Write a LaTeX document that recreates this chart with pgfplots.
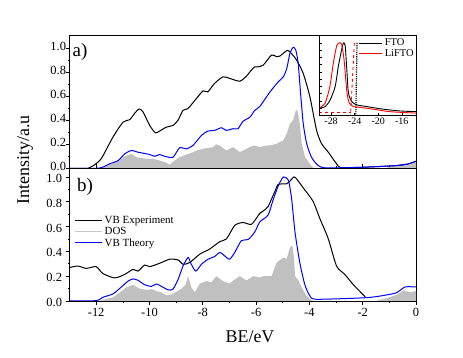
\documentclass[border=0pt]{standalone}
\usepackage{pgfplots}
\pgfplotsset{compat=1.18}
\usepackage{fontspec}
\setmainfont{Liberation Serif}
\definecolor{dosgray}{RGB}{192,192,192}
\definecolor{dosleg}{RGB}{200,200,200}
\begin{document}
\begin{tikzpicture}
\useasboundingbox (0,0) rectangle (463bp,358bp);
\pgfplotsset{
  mainax/.style={
    scale only axis, width=346.5bp, height=132.6bp,
    xmin=-13, xmax=0,
    xtick={-12,-10,...,0}, minor x tick num=1,
    ytick={0,0.2,...,1.0}, minor y tick num=1,
    xtick pos=left, ytick pos=left,
    /pgf/number format/assume math mode=true,
    yticklabel style={/pgf/number format/fixed,/pgf/number format/precision=1,/pgf/number format/fixed zerofill},
    ticklabel style={font=\fontsize{12.5}{14}\selectfont},
    major tick length=4bp, minor tick length=2bp,
    axis line style={line width=0.6bp}, every tick/.style={black, line width=0.6bp},
    clip=true,
  },
}
% ---------- panel a ----------
\begin{axis}[mainax, at={(69.5bp,189.7bp)}, anchor=south west,
  ymin=0, ymax=1.105, xticklabels={}, x tick style={/pgfplots/tick align=inside},
  y tick style={/pgfplots/tick align=outside},
  yticklabel style={yshift=1.8bp}]
\addplot[fill=dosgray, draw=none] coordinates {
(-13,0) (-11.8,0) (-11.5,0.03) (-11.2,0.06) (-10.93,0.10) (-10.68,0.12) (-10.49,0.092) (-10.3,0.085) (-10.11,0.08)
(-9.8,0.075) (-9.62,0.065) (-9.4,0.05) (-9.25,0.03) (-9.06,0.064) (-8.87,0.092) (-8.61,0.115) (-8.37,0.134)
(-8.2,0.15) (-7.99,0.162) (-7.8,0.17) (-7.62,0.176) (-7.5,0.2) (-7.37,0.19) (-7.12,0.148) (-6.86,0.176)
(-6.61,0.134) (-6.36,0.162) (-6.2,0.18) (-6.05,0.19) (-5.86,0.176) (-5.6,0.19) (-5.48,0.19) (-5.23,0.204)
(-4.98,0.232) (-4.85,0.288) (-4.73,0.372) (-4.61,0.40) (-4.51,0.483) (-4.45,0.483) (-4.36,0.372) (-4.29,0.204)
(-4.16,0.092) (-3.98,0.037) (-3.85,0.0) (-1.2,0) (-0.8,0.02) (-0.5,0.04) (-0.2,0.03) (0,0.05)
} \closedcycle;
\addplot[black, line width=1bp, smooth, tension=0.4] coordinates {
(-13,0) (-12.3,0) (-12.12,0.02) (-11.81,0.08) (-11.37,0.26) (-10.99,0.385) (-10.74,0.405) (-10.55,0.46)
(-10.39,0.494) (-10.24,0.47) (-9.99,0.357) (-9.78,0.296) (-9.62,0.31) (-9.37,0.343) (-9.12,0.357) (-8.93,0.40)
(-8.74,0.483) (-8.56,0.497) (-8.24,0.581) (-7.99,0.645) (-7.81,0.637) (-7.56,0.707) (-7.24,0.762) (-6.99,0.749)
(-6.61,0.726) (-6.36,0.768) (-6.23,0.804) (-6.05,0.846) (-5.92,0.846) (-5.73,0.86) (-5.42,0.944) (-5.23,0.93)
(-5.11,0.935) (-4.85,0.98) (-4.73,0.97) (-4.48,0.902) (-4.23,0.79) (-3.98,0.595) (-3.73,0.316) (-3.54,0.204)
(-3.29,0.134) (-2.98,0.037) (-2.85,0.008) (-2.5,0.006) (-1.85,0.01) (-0.72,0.023) (-0.28,0.037) (0,0.059)
};
\addplot[blue, line width=1bp, smooth, tension=0.4] coordinates {
(-13,0) (-12.0,0) (-11.75,0.01) (-11.5,0.037) (-11.18,0.064) (-10.93,0.12) (-10.68,0.148) (-10.43,0.134)
(-10.24,0.126) (-9.99,0.115) (-9.80,0.10) (-9.62,0.115) (-9.43,0.10) (-9.12,0.092) (-8.87,0.171) (-8.61,0.162)
(-8.37,0.19) (-8.05,0.274) (-7.81,0.31) (-7.56,0.316) (-7.30,0.338) (-7.12,0.316) (-6.86,0.33) (-6.68,0.33)
(-6.49,0.391) (-6.23,0.427) (-6.05,0.483) (-5.86,0.515) (-5.48,0.636) (-5.17,0.72) (-4.98,0.762) (-4.85,0.83)
(-4.73,0.958) (-4.61,1.008) (-4.51,0.985) (-4.42,0.874) (-4.33,0.623) (-4.23,0.372) (-4.10,0.204) (-3.92,0.092)
(-3.67,0.023) (-3.35,0.003) (-1.85,0.01) (-0.72,0.023) (-0.28,0.037) (0,0.059)
};
\end{axis}
% ---------- panel b ----------
\begin{axis}[mainax, at={(69.5bp,57bp)}, anchor=south west, height=132.7bp,
  ymin=0, ymax=1.07, tick align=outside,
  yticklabel style={yshift=-1.5bp},
  legend style={at={(0.01,0.665)}, anchor=north west, draw=none, fill=none,
    font=\fontsize{11}{13}\selectfont, row sep=-1.5bp, inner sep=1bp},
  legend cell align=left,
  legend image code/.code={\draw[#1] (0bp,0bp) -- (27bp,0bp);}]
\addplot[fill=dosgray, draw=none, forget plot] coordinates {
(-13,0) (-11.9,0) (-11.75,0.01) (-11.37,0.03) (-11.1,0.07) (-10.87,0.11) (-10.62,0.13) (-10.37,0.1) (-10.11,0.09)
(-9.9,0.095) (-9.74,0.08) (-9.55,0.07) (-9.37,0.045) (-9.2,0.05) (-9.06,0.065) (-8.80,0.1) (-8.65,0.13) (-8.55,0.2)
(-8.43,0.11) (-8.30,0.07) (-8.11,0.14) (-7.86,0.16) (-7.68,0.15) (-7.49,0.2) (-7.24,0.16) (-6.99,0.14) (-6.86,0.165)
(-6.61,0.2) (-6.36,0.165) (-6.11,0.2) (-5.86,0.19) (-5.73,0.2) (-5.42,0.2) (-5.23,0.31) (-4.98,0.35) (-4.85,0.34)
(-4.73,0.433) (-4.64,0.446) (-4.58,0.36) (-4.54,0.2) (-4.42,0.17) (-4.29,0.11) (-4.10,0.04) (-3.92,0.005) (-3.8,0)
(-1.5,0) (-1.0,0.03) (-0.72,0.05) (-0.47,0.085) (-0.22,0.07) (0,0.08)
} \closedcycle;
\addplot[black, line width=1bp, smooth, tension=0.4, forget plot] coordinates {
(-13,0.269) (-12.69,0.282) (-12.37,0.263) (-12.0,0.277) (-11.75,0.222) (-11.31,0.186) (-10.93,0.214) (-10.62,0.255)
(-10.43,0.241) (-10.18,0.29) (-9.99,0.277) (-9.62,0.304) (-9.24,0.337) (-8.93,0.331) (-8.74,0.296) (-8.49,0.31)
(-8.11,0.378) (-7.74,0.419) (-7.36,0.479) (-7.11,0.501) (-6.80,0.61) (-6.49,0.633) (-6.17,0.619) (-5.86,0.707)
(-5.73,0.726) (-5.55,0.762) (-5.29,0.885) (-5.17,0.94) (-4.86,0.945) (-4.73,0.967) (-4.58,1.0) (-4.48,0.985)
(-4.23,0.912) (-3.86,0.803) (-3.61,0.666) (-3.29,0.501) (-2.98,0.282) (-2.67,0.214) (-2.35,0.131) (-2.10,0.076)
(-1.88,0.027)
};
\addplot[blue, line width=1bp, smooth, tension=0.4, forget plot] coordinates {
(-13,0) (-12.0,0.003) (-11.75,0.03) (-11.37,0.057) (-11.06,0.112) (-10.81,0.159) (-10.62,0.178) (-10.43,0.167)
(-10.18,0.131) (-9.93,0.118) (-9.74,0.137) (-9.55,0.118) (-9.30,0.09) (-9.12,0.095) (-8.93,0.172) (-8.74,0.282)
(-8.55,0.351) (-8.43,0.296) (-8.26,0.241) (-8.05,0.296) (-7.80,0.337) (-7.55,0.359) (-7.36,0.392) (-7.18,0.364)
(-6.99,0.337) (-6.80,0.392) (-6.55,0.487) (-6.30,0.495) (-6.05,0.556) (-5.86,0.638) (-5.55,0.693) (-5.36,0.816)
(-5.17,0.926) (-4.98,1.0) (-4.79,0.975) (-4.67,0.83) (-4.54,0.556) (-4.36,0.31) (-4.17,0.131) (-3.98,0.041)
(-3.73,0.014) (-1.85,0.027) (-1.10,0.049) (-0.72,0.068) (-0.41,0.113) (0,0.113)
};
\addlegendimage{black, line width=1bp}
\addlegendentry{VB Experiment}
\addlegendimage{dosleg, line width=1.5bp}
\addlegendentry{DOS}
\addlegendimage{blue, line width=1bp}
\addlegendentry{VB Theory}
\end{axis}
% ---------- inset ----------
\begin{axis}[scale only axis, at={(319.3bp,242.7bp)}, anchor=south west,
  width=97.2bp, height=79.6bp,
  xmin=-30, xmax=-13.5, ymin=0, ymax=1.1,
  xtick={-28,-24,-20,-16}, ytick={0,0.1,...,1.1}, yticklabels={},
  xtick pos=left, ytick pos=left, tick align=inside,
  major tick length=2.5bp,
  /pgf/number format/assume math mode=true,
  ticklabel style={font=\fontsize{10}{11}\selectfont},
  xticklabel style={yshift=1bp},
  axis line style={line width=0.6bp}, every tick/.style={black, line width=0.5bp},
  axis background/.style={fill=white},
  legend style={at={(0.40,0.995)}, anchor=north west, draw=none, fill=none,
    font=\fontsize{10.5}{12}\selectfont, row sep=-2bp, inner sep=0.5bp},
  legend cell align=left,
  legend image code/.code={\draw[#1] (0bp,0bp) -- (23bp,0bp);}]
\addplot[red, line width=0.9bp, dashed, forget plot] coordinates {(-24.05,1.0) (-24.7,0.0)};
\addplot[red, line width=0.8bp, dashed, forget plot] coordinates {(-30,0.04) (-24.6,0.04)};
\addplot[black, line width=1.2bp, densely dotted, forget plot] coordinates {(-23.6,1.0) (-23.8,0.0)};
\addplot[black, line width=0.9bp, smooth, tension=0.4] coordinates {
(-30,0.10) (-29.0,0.12) (-28.17,0.21) (-27.3,0.40) (-26.76,0.68) (-26.2,0.91) (-25.9,1.0) (-25.6,0.96)
(-25.33,0.63) (-25.06,0.31) (-24.5,0.19) (-23.64,0.144) (-21.9,0.12) (-19.1,0.084) (-16.3,0.06) (-13.5,0.05)
};
\addlegendentry{FTO}
\addplot[red, line width=0.9bp, smooth, tension=0.4] coordinates {
(-30,0.1) (-29.0,0.17) (-28.2,0.4) (-27.6,0.73) (-27.05,0.96) (-26.6,1.0) (-26.2,0.98) (-25.8,0.77)
(-25.3,0.31) (-24.9,0.17) (-24.2,0.12) (-23.1,0.11) (-20.8,0.084) (-18.0,0.05) (-13.5,0.03)
};
\addlegendentry{LiFTO}
\end{axis}
% ---------- labels ----------
\node[font=\fontsize{19}{21}\selectfont] at (80bp,306bp) {a)};
\node[font=\fontsize{19}{21}\selectfont] at (85bp,171.3bp) {b)};
\node[font=\fontsize{18}{20}\selectfont, rotate=90] at (25bp,198bp) {Intensity/a.u};
\node[font=\fontsize{18}{20}\selectfont] at (250bp,21.5bp) {BE/eV};
\end{tikzpicture}
\end{document}
